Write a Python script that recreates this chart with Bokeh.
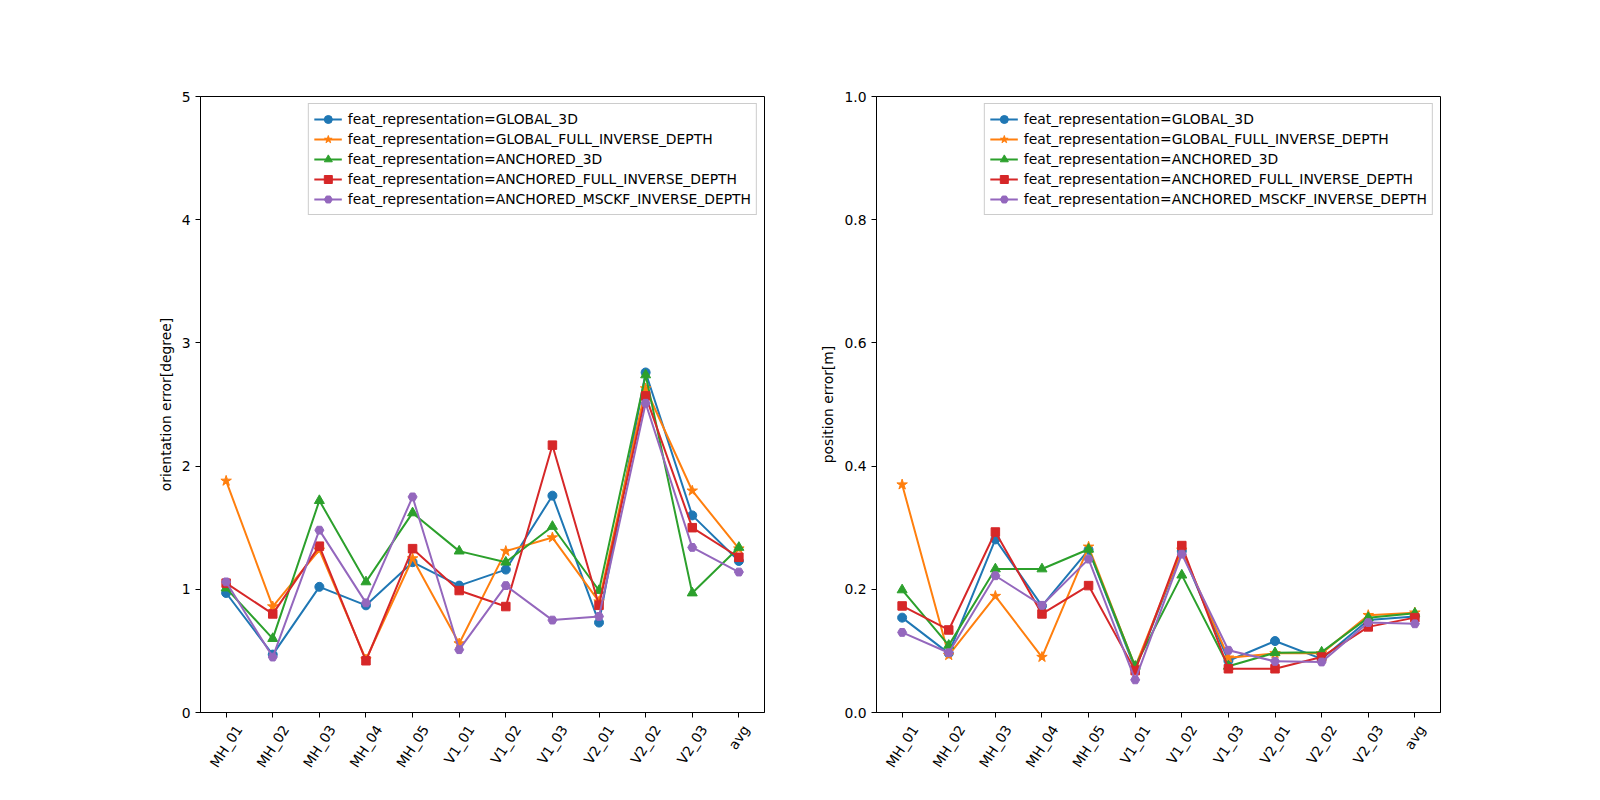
import math
from bokeh.plotting import figure
from bokeh.layouts import row, column
from bokeh.models import Range1d, FixedTicker, Legend, LegendItem
from bokeh.core.properties import value
from bokeh.embed import file_html
from bokeh.resources import INLINE

sequences = ["MH_01", "MH_02", "MH_03", "MH_04", "MH_05", "V1_01", "V1_02",
             "V1_03", "V2_01", "V2_02", "V2_03", "avg"]
series_names = [
    "feat_representation=GLOBAL_3D",
    "feat_representation=GLOBAL_FULL_INVERSE_DEPTH",
    "feat_representation=ANCHORED_3D",
    "feat_representation=ANCHORED_FULL_INVERSE_DEPTH",
    "feat_representation=ANCHORED_MSCKF_INVERSE_DEPTH",
]

orient_global_3d = [0.97, 0.47, 1.02, 0.87, 1.22, 1.03, 1.16, 1.76, 0.73, 2.76, 1.60, 1.23]
orient_global_full_inv = [1.88, 0.86, 1.32, 0.43, 1.25, 0.56, 1.31, 1.42, 0.90, 2.63, 1.80, 1.33]
orient_anchored_3d = [1.01, 0.60, 1.72, 1.06, 1.62, 1.31, 1.22, 1.51, 0.99, 2.74, 0.97, 1.34]
orient_anchored_full_inv = [1.05, 0.80, 1.35, 0.42, 1.33, 0.99, 0.86, 2.17, 0.87, 2.57, 1.50, 1.26]
orient_anchored_msckf = [1.06, 0.45, 1.48, 0.89, 1.75, 0.51, 1.03, 0.75, 0.78, 2.51, 1.34, 1.14]

pos_global_3d = [0.154, 0.096, 0.281, 0.173, 0.264, 0.071, 0.262, 0.084, 0.116, 0.087, 0.150, 0.156]
pos_global_full_inv = [0.370, 0.093, 0.189, 0.090, 0.269, 0.074, 0.264, 0.089, 0.096, 0.096, 0.158, 0.162]
pos_anchored_3d = [0.199, 0.109, 0.233, 0.233, 0.265, 0.075, 0.223, 0.075, 0.097, 0.098, 0.154, 0.161]
pos_anchored_full_inv = [0.173, 0.134, 0.293, 0.160, 0.206, 0.068, 0.271, 0.071, 0.071, 0.090, 0.139, 0.154]
pos_anchored_msckf = [0.130, 0.097, 0.222, 0.174, 0.249, 0.053, 0.257, 0.101, 0.083, 0.082, 0.146, 0.144]

orient_series = [orient_global_3d, orient_global_full_inv, orient_anchored_3d,
                 orient_anchored_full_inv, orient_anchored_msckf]
pos_series = [pos_global_3d, pos_global_full_inv, pos_anchored_3d,
              pos_anchored_full_inv, pos_anchored_msckf]

colors = ["#1f77b4", "#ff7f0e", "#2ca02c", "#d62728", "#9467bd"]
markers = ["circle", "star", "triangle", "square", "hex"]
msizes = [9, 11, 10, 8.5, 9]

FONT = "DejaVu Sans"
FSZ = 13.9
FS = "13.9px"
ROT = math.radians(57)
TOP = 96
FRAME_W = 564
FRAME_H = 616
GAP = 10          # border below the frame holding the x tick marks
STRIP = 62        # strip holding the rotated x tick labels

# approximate DejaVu Sans advance widths (em) for the tick-label characters
_ADV = {"M": 0.863, "H": 0.752, "_": 0.5, "V": 0.684, "a": 0.613,
        "v": 0.592, "g": 0.635}


def _label_offset(s):
    """pixel distance below the x axis of the centre of a rotated label"""
    w = sum(_ADV.get(ch, 0.636) for ch in s) * FSZ
    h = 1.15 * FSZ
    return 9.7 + (w * math.sin(ROT) + h * math.cos(ROT)) / 2.0


def style_axis(ax):
    ax.minor_tick_line_color = None
    ax.major_tick_in = 0
    ax.major_tick_out = 5
    ax.major_tick_line_color = "black"
    ax.axis_line_color = "black"
    ax.major_label_text_font = FONT
    ax.major_label_text_font_size = FS
    ax.major_label_text_color = "black"
    ax.axis_label_text_font = FONT
    ax.axis_label_text_font_size = FS
    ax.axis_label_text_font_style = "normal"
    ax.axis_label_text_color = "black"


def make_plot(series, y_end, yticks, ylabel, fmt, left_border, right_border):
    x_range = Range1d(-0.55, 11.55)
    p = figure(width=left_border + FRAME_W + right_border,
               height=TOP + FRAME_H + GAP,
               frame_width=FRAME_W, frame_height=FRAME_H,
               x_range=x_range, y_range=Range1d(0, y_end),
               output_backend="svg", toolbar_location=None,
               min_border_left=left_border, min_border_right=right_border,
               min_border_top=TOP, min_border_bottom=GAP)
    p.grid.visible = False
    p.outline_line_color = "black"
    p.outline_line_width = 1
    p.background_fill_color = "white"
    p.border_fill_color = "white"
    xs = list(range(len(sequences)))
    items = []
    for vals, name, c, m, s in zip(series, series_names, colors, markers, msizes):
        r1 = p.line(xs, vals, line_color=c, line_width=2)
        r2 = p.scatter(xs, vals, marker=m, size=s, fill_color=c, line_color=c)
        items.append(LegendItem(label=name, renderers=[r1, r2]))
    legend = Legend(items=items, location="top_right",
                    label_text_font=FONT, label_text_font_size=FS,
                    label_text_color="black",
                    glyph_width=28, glyph_height=20, label_height=20,
                    spacing=0, padding=5, margin=7, label_standoff=6,
                    border_line_color="#cccccc", border_line_alpha=1.0,
                    background_fill_alpha=0.8)
    p.add_layout(legend, "center")

    p.yaxis.ticker = FixedTicker(ticks=yticks)
    p.yaxis.major_label_overrides = {t: fmt.format(t) for t in yticks}
    p.yaxis.axis_label = ylabel
    style_axis(p.yaxis)
    style_axis(p.xaxis)
    p.xaxis.ticker = FixedTicker(ticks=xs)
    p.xaxis.major_label_text_font_size = "0px"
    p.xaxis.major_label_text_color = None
    p.xaxis.major_label_standoff = 0

    # strip below holding the rotated, centred tick labels (y in pixels below axis)
    q = figure(width=left_border + FRAME_W + right_border, height=STRIP,
               frame_width=FRAME_W, frame_height=STRIP,
               x_range=x_range, y_range=Range1d(-(GAP + STRIP), -GAP),
               x_axis_location=None, y_axis_location=None,
               output_backend="svg", toolbar_location=None,
               min_border_left=left_border, min_border_right=right_border,
               min_border_top=0, min_border_bottom=0)
    q.grid.visible = False
    q.outline_line_color = None
    q.background_fill_color = "white"
    q.border_fill_color = "white"
    q.text(x=xs, y=[-_label_offset(s) for s in sequences], text=sequences,
           angle=ROT, text_align="center", text_baseline="middle",
           text_font=value(FONT), text_font_size=value(FS), text_color="black")
    return p, q


p1, q1 = make_plot(orient_series, 5, [0, 1, 2, 3, 4, 5], "orientation error[degree]",
                   "{:.0f}", 200, 20)
p2, q2 = make_plot(pos_series, 1, [0.0, 0.2, 0.4, 0.6, 0.8, 1.0], "position error[m]",
                   "{:.1f}", 92, 100)

layout = column(row(p1, p2), row(q1, q2))
open("out.html", "w").write(file_html(layout, INLINE))
